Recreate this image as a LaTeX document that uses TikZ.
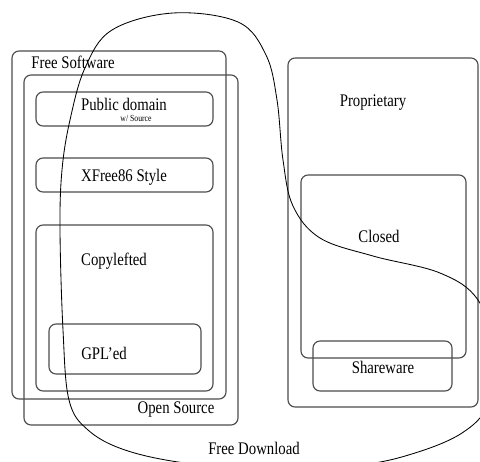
\documentclass[tikz,border=0pt]{standalone}
\usepackage{fontspec}
\setmainfont{Liberation Serif}
\usepackage{graphicx}
\usepackage{tikz}
\usetikzlibrary{fit}
\usetikzlibrary{positioning}
\tikzset{
  region/.style = {draw = black!70, line width = .8pt, rounded corners = 5pt,
                   inner sep = 0pt, fit = {#1}},
  lbl/.style = {draw = none, inner sep = 1, font = \fontsize{10.5}{12}\selectfont},
  tiny/.style = {draw = none, inner sep = 1, font = \fontsize{5.5}{6}\selectfont},
}
\newcommand{\tallText}[1]{\scalebox{1}[1.2]{#1}}

\begin{document}
\begin{tikzpicture}[x = .025cm, y = -.025cm]
\useasboundingbox (0, 0) rectangle (480, 461);
\clip (0, 0) rectangle (480, 461);
% free / open source side
\node [region = {(12, 51) (226, 399)}] (free) {};
\node [region = {(24, 75) (238, 425)}] (open) {};
\node [region = {(36, 92) (213, 126)}] (pd) {};
\node [region = {(36, 158) (213, 192)}] (xf) {};
\node [region = {(36, 225) (213, 391)}] (copy) {};
\node [region = {(49, 324) (201, 374)}] (gpl) {};
% proprietary side
\node [region = {(288, 58) (478, 407)}] (prop) {};
\node [region = {(301, 175) (466, 358)}] (closed) {};
\node [region = {(313, 341) (452, 391)}] (share) {};
% labels
\node [lbl] (Lfree) at (73, 62) {\tallText{Free Software}};
\node [lbl] (Lopen) at (176, 410) {\tallText{Open Source}};
\node [lbl] (Lpd) at (124, 104) {\tallText{Public domain}};
\node [tiny] (Lsrc) at (136, 118) {\tallText{w/ Source}};
\node [lbl] (Lxf) at (124, 177) {\tallText{XFree86 Style}};
\node [lbl] (Lcopy) at (114, 261) {\tallText{Copylefted}};
\node [lbl] (Lgpl) at (104, 353) {\tallText{GPL'ed}};
\node [lbl] (Lprop) at (373, 103) {\tallText{Proprietary}};
\node [lbl] (Lclosed) at (379, 236) {\tallText{Closed}};
\node [lbl] (Lshare) at (383, 367) {\tallText{Shareware}};
\node [lbl] (Lfd) at (254, 448) {\tallText{Free Download}};
% free download loop
\draw [line width = .6pt] plot [smooth cycle, tension = .6] coordinates {
  (173, 13) (238, 22) (266, 55) (277, 100) (283, 160) (293, 206) (320, 238)
  (373, 256) (440, 273) (478, 300) (497, 355) (488, 405) (462, 433)
  (415, 453) (360, 465) (270, 470) (185, 463) (125, 450) (88, 430)
  (69, 400) (63, 330) (60, 230) (62, 170) (70, 120) (85, 68) (112, 30)};
\end{tikzpicture}
\end{document}
